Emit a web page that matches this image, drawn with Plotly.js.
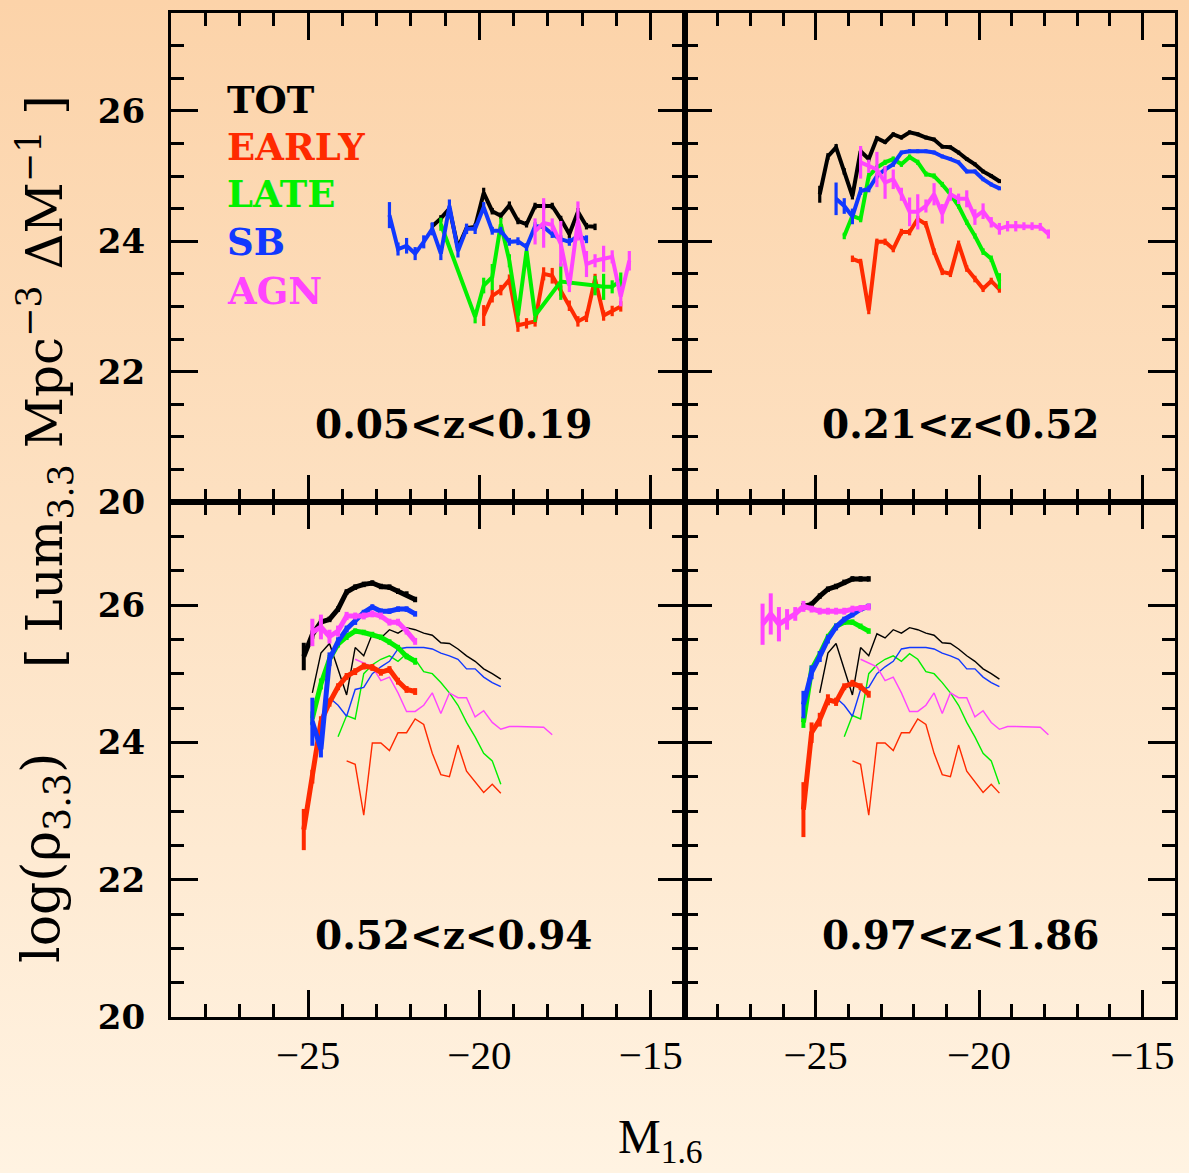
<!DOCTYPE html>
<html><head><meta charset="utf-8">
<script src="https://cdn.plot.ly/plotly-3.0.1.min.js"></script>
<style>
html,body{margin:0;padding:0;}
body{width:1189px;height:1173px;overflow:hidden;background:linear-gradient(to bottom,#FCD3A9 0%,#FDE1C2 45%,#FFF3E2 100%);}
#plot{width:1189px;height:1173px;}
</style></head><body><div id="plot"></div>
<script>
// ---------- tick labels / categories ----------
const panelLabels = ['0.05<z<0.19','0.21<z<0.52','0.52<z<0.94','0.97<z<1.86'];
const seriesNames = ['TOT','EARLY','LATE','SB','AGN'];
const seriesColors = ['#000000','#FF2A00','#00F000','#1038FF','#FF44FF'];

// ---------- panel 1 : 0.05<z<0.19 ----------
const z1_tot_x = [-21.375,-21.125,-20.875,-20.625,-20.375,-20.125,-19.875,-19.625,-19.375,-19.125,-18.875,-18.625,-18.375,-18.125,-17.875,-17.625,-17.375,-17.125,-16.875,-16.625];
const z1_tot_y = [24.23,24.35,24.50,23.90,24.20,24.22,24.74,24.46,24.39,24.55,24.31,24.26,24.54,24.54,24.54,24.34,24.11,24.45,24.23,24.22];
const z1_tot_e = [0.05,0.05,0.05,0.05,0.05,0.05,0.08,0.05,0.05,0.06,0.05,0.05,0.05,0.05,0.05,0.05,0.06,0.06,0.05,0.05];
const z1_early_x = [-19.875,-19.625,-19.375,-19.125,-18.875,-18.625,-18.375,-18.125,-17.875,-17.625,-17.375,-17.125,-16.875,-16.625,-16.375,-16.125,-15.875];
const z1_early_y = [22.86,23.16,23.25,23.41,22.71,22.74,22.77,23.50,23.47,23.24,23.01,22.77,22.84,23.42,22.86,22.93,23.00];
const z1_early_e = [0.16,0.10,0.08,0.08,0.10,0.08,0.08,0.10,0.12,0.08,0.08,0.08,0.08,0.08,0.08,0.08,0.08];
const z1_late_x = [-21.125,-20.125,-19.875,-19.625,-19.375,-19.125,-18.875,-18.625,-18.375,-17.625,-16.625,-16.375,-16.125,-15.875];
const z1_late_y = [24.26,22.84,23.32,23.45,24.26,23.70,22.86,23.85,22.86,23.38,23.32,23.30,23.30,23.40];
const z1_late_e = [0.10,0.10,0.12,0.20,0.10,0.10,0.10,0.10,0.10,0.28,0.15,0.20,0.10,0.12];
const z1_sb_x = [-22.625,-22.375,-22.125,-21.875,-21.625,-21.375,-21.125,-20.875,-20.625,-20.375,-20.125,-19.875,-19.625,-19.375,-19.125,-18.875,-18.625,-18.375,-18.125,-17.875,-17.625,-17.375,-17.125,-16.875];
const z1_sb_y = [24.40,23.88,23.93,23.81,23.99,24.19,23.81,24.54,23.85,24.19,24.19,24.52,24.16,24.16,23.99,24.00,23.91,24.23,24.22,24.11,24.03,23.99,24.08,24.03];
const z1_sb_e = [0.20,0.10,0.12,0.10,0.10,0.10,0.10,0.10,0.10,0.08,0.08,0.08,0.06,0.06,0.06,0.06,0.06,0.06,0.06,0.06,0.06,0.06,0.06,0.06];
const z1_agn_x = [-18.375,-18.125,-17.875,-17.625,-17.375,-17.125,-16.875,-16.625,-16.375,-16.125,-15.875,-15.625];
const z1_agn_y = [24.15,24.28,24.25,23.96,23.32,24.31,23.65,23.70,23.73,23.76,23.15,23.70];
const z1_agn_e = [0.20,0.38,0.10,0.35,0.10,0.30,0.20,0.10,0.20,0.10,0.15,0.15];

// ---------- panel 2 : 0.21<z<0.52 ----------
const z2_tot_x = [-24.875,-24.625,-24.375,-24.125,-23.875,-23.625,-23.375,-23.125,-22.875,-22.625,-22.375,-22.125,-21.875,-21.625,-21.375,-21.125,-20.875,-20.625,-20.375,-20.125,-19.875,-19.625,-19.375];
const z2_tot_y = [24.72,25.30,25.44,25.07,24.69,25.38,25.26,25.58,25.52,25.64,25.59,25.67,25.64,25.59,25.56,25.45,25.44,25.36,25.26,25.18,25.07,25.00,24.92];
const z2_tot_e = [0.13,0.05,0.05,0.05,0.05,0.04,0.04,0.03,0.03,0.03,0.03,0.03,0.03,0.03,0.03,0.03,0.03,0.03,0.03,0.03,0.03,0.03,0.03];
const z2_early_x = [-23.875,-23.625,-23.375,-23.125,-22.875,-22.625,-22.375,-22.125,-21.875,-21.625,-21.375,-21.125,-20.875,-20.625,-20.375,-20.125,-19.875,-19.625,-19.375];
const z2_early_y = [23.73,23.68,22.94,23.99,23.99,23.88,24.14,24.14,24.34,24.26,23.84,23.53,23.50,23.96,23.58,23.42,23.27,23.39,23.26];
const z2_early_e = [0.05,0.05,0.06,0.05,0.05,0.05,0.05,0.05,0.05,0.05,0.05,0.05,0.05,0.05,0.05,0.05,0.05,0.05,0.05];
const z2_late_x = [-24.125,-23.875,-23.625,-23.375,-23.125,-22.875,-22.625,-22.375,-22.125,-21.875,-21.625,-21.375,-21.125,-20.875,-20.625,-20.375,-20.125,-19.875,-19.625,-19.375];
const z2_late_y = [24.08,24.39,24.34,25.00,25.13,25.21,25.26,25.18,25.29,25.21,25.03,25.00,24.87,24.72,24.54,24.29,24.08,23.84,23.73,23.39];
const z2_late_e = [0.05,0.05,0.05,0.05,0.04,0.04,0.04,0.04,0.04,0.04,0.04,0.04,0.04,0.04,0.04,0.04,0.04,0.05,0.05,0.12];
const z2_sb_x = [-24.375,-24.125,-23.875,-23.625,-23.375,-23.125,-22.875,-22.625,-22.375,-22.125,-21.875,-21.625,-21.375,-21.125,-20.875,-20.625,-20.375,-20.125,-19.875,-19.625,-19.375];
const z2_sb_y = [24.65,24.54,24.38,24.77,24.80,25.00,25.10,25.18,25.36,25.38,25.38,25.38,25.36,25.30,25.26,25.21,25.07,25.07,24.95,24.87,24.81];
const z2_sb_e = [0.25,0.12,0.12,0.06,0.05,0.04,0.04,0.04,0.03,0.03,0.03,0.03,0.03,0.03,0.03,0.03,0.03,0.03,0.03,0.03,0.03];
const z2_agn_x = [-23.625,-23.375,-23.125,-22.875,-22.625,-22.375,-22.125,-21.875,-21.625,-21.375,-21.125,-20.875,-20.625,-20.375,-20.125,-19.875,-19.625,-19.375,-19.125,-18.875,-18.625,-18.375,-18.125,-17.875];
const z2_agn_y = [25.21,25.15,25.10,24.90,24.95,24.72,24.45,24.45,24.54,24.72,24.42,24.72,24.65,24.65,24.37,24.46,24.29,24.19,24.23,24.23,24.23,24.23,24.22,24.11];
const z2_agn_e = [0.25,0.10,0.27,0.25,0.15,0.10,0.22,0.27,0.10,0.17,0.15,0.10,0.08,0.13,0.12,0.12,0.08,0.09,0.08,0.08,0.06,0.06,0.06,0.07];

// ---------- panel 3 : 0.52<z<0.94 ----------
const z3_tot_x = [-25.125,-24.875,-24.625,-24.375,-24.125,-23.875,-23.625,-23.375,-23.125,-22.875,-22.625,-22.375,-22.125,-21.875];
const z3_tot_y = [25.25,25.57,25.75,25.79,25.94,26.19,26.26,26.30,26.32,26.27,26.26,26.20,26.16,26.08];
const z3_tot_e = [0.20,0.06,0.05,0.04,0.04,0.04,0.04,0.04,0.04,0.04,0.04,0.04,0.04,0.04];
const z3_early_x = [-25.125,-24.875,-24.625,-24.375,-24.125,-23.875,-23.625,-23.375,-23.125,-22.875,-22.625,-22.375,-22.125,-21.875];
const z3_early_y = [22.73,23.50,24.30,24.58,24.81,24.96,25.03,25.11,25.09,25.02,25.06,24.89,24.77,24.74];
const z3_early_e = [0.30,0.10,0.08,0.06,0.05,0.05,0.05,0.05,0.05,0.05,0.05,0.05,0.05,0.05];
const z3_late_x = [-24.875,-24.625,-24.375,-24.125,-23.875,-23.625,-23.375,-23.125,-22.875,-22.625,-22.375,-22.125,-21.875];
const z3_late_y = [24.35,24.85,25.21,25.43,25.54,25.62,25.60,25.57,25.53,25.46,25.38,25.25,25.18];
const z3_late_e = [0.10,0.08,0.06,0.05,0.05,0.04,0.04,0.04,0.04,0.04,0.04,0.04,0.05];
const z3_sb_x = [-24.875,-24.625,-24.375,-24.125,-23.875,-23.625,-23.375,-23.125,-22.875,-22.625,-22.375,-22.125,-21.875];
const z3_sb_y = [24.30,23.90,25.21,25.47,25.65,25.76,25.89,25.97,25.91,25.91,25.94,25.94,25.87];
const z3_sb_e = [0.35,0.12,0.10,0.06,0.05,0.05,0.04,0.04,0.04,0.04,0.04,0.04,0.04];
const z3_agn_x = [-24.875,-24.625,-24.375,-24.125,-23.875,-23.625,-23.375,-23.125,-22.875,-22.625,-22.375,-22.125,-21.875];
const z3_agn_y = [25.60,25.68,25.54,25.62,25.84,25.84,25.84,25.87,25.84,25.75,25.75,25.62,25.47];
const z3_agn_e = [0.20,0.18,0.10,0.08,0.06,0.05,0.05,0.05,0.05,0.05,0.05,0.05,0.05];

// ---------- panel 4 : 0.97<z<1.86 ----------
const z4_tot_x = [-25.375,-25.125,-24.875,-24.625,-24.375,-24.125,-23.875,-23.625,-23.375];
const z4_tot_y = [25.98,26.01,26.13,26.23,26.27,26.33,26.38,26.38,26.38];
const z4_tot_e = [0.05,0.04,0.04,0.04,0.04,0.04,0.04,0.04,0.04];
const z4_early_x = [-25.375,-25.125,-24.875,-24.625,-24.375,-24.125,-23.875,-23.625,-23.375];
const z4_early_y = [23.02,24.14,24.33,24.62,24.59,24.81,24.86,24.81,24.70];
const z4_early_e = [0.40,0.15,0.10,0.08,0.06,0.05,0.05,0.05,0.05];
const z4_late_x = [-25.375,-25.125,-24.875,-24.625,-24.375,-24.125,-23.875,-23.625,-23.375];
const z4_late_y = [24.29,25.06,25.28,25.53,25.69,25.75,25.75,25.69,25.62];
const z4_late_e = [0.08,0.06,0.05,0.05,0.04,0.04,0.04,0.04,0.04];
const z4_sb_x = [-25.375,-25.125,-24.875,-24.625,-24.375,-24.125,-23.875,-23.625,-23.375];
const z4_sb_y = [24.55,25.02,25.25,25.50,25.68,25.79,25.86,25.94,25.98];
const z4_sb_e = [0.20,0.10,0.08,0.06,0.05,0.04,0.04,0.04,0.04];
const z4_agn_x = [-26.625,-26.375,-26.125,-25.875,-25.625,-25.375,-25.125,-24.875,-24.625,-24.375,-24.125,-23.875,-23.625,-23.375];
const z4_agn_y = [25.72,25.87,25.72,25.79,25.87,25.98,25.94,25.91,25.91,25.91,25.91,25.94,25.95,25.97];
const z4_agn_e = [0.30,0.30,0.25,0.15,0.10,0.08,0.05,0.05,0.05,0.05,0.05,0.05,0.05,0.05];

// ---------- build traces ----------
function tr(x, y, e, color, w, xa, ya){
  const t = {type:'scatter', mode:'lines', x:x, y:y, xaxis:xa, yaxis:ya,
    line:{color:color, width:w}, hoverinfo:'skip', showlegend:false};
  if (e) t.error_y = {type:'data', array:e, visible:true, color:color, thickness:Math.max(2,w*0.8), width:0};
  return t;
}
const C = seriesColors;
const traces = [];
function panel(d, xa, ya, w){
  d.forEach((s,i)=>traces.push(tr(s[0], s[1], s[2], C[i], w, xa, ya)));
}
const P1 = [[z1_tot_x,z1_tot_y,z1_tot_e],[z1_early_x,z1_early_y,z1_early_e],[z1_late_x,z1_late_y,z1_late_e],[z1_sb_x,z1_sb_y,z1_sb_e],[z1_agn_x,z1_agn_y,z1_agn_e]];
const P2 = [[z2_tot_x,z2_tot_y,z2_tot_e],[z2_early_x,z2_early_y,z2_early_e],[z2_late_x,z2_late_y,z2_late_e],[z2_sb_x,z2_sb_y,z2_sb_e],[z2_agn_x,z2_agn_y,z2_agn_e]];
const P2thin = P2.map(s => [s[0], s[1], null]);
const P3 = [[z3_tot_x,z3_tot_y,z3_tot_e],[z3_early_x,z3_early_y,z3_early_e],[z3_late_x,z3_late_y,z3_late_e],[z3_sb_x,z3_sb_y,z3_sb_e],[z3_agn_x,z3_agn_y,z3_agn_e]];
const P4 = [[z4_tot_x,z4_tot_y,z4_tot_e],[z4_early_x,z4_early_y,z4_early_e],[z4_late_x,z4_late_y,z4_late_e],[z4_sb_x,z4_sb_y,z4_sb_e],[z4_agn_x,z4_agn_y,z4_agn_e]];

panel(P1, 'x', 'y', 4);
panel(P2, 'x2', 'y2', 4);
panel(P2thin, 'x3', 'y3', 1.4);
panel(P3, 'x3', 'y3', 5);
panel(P2thin, 'x4', 'y4', 1.4);
panel(P4, 'x4', 'y4', 5);

// ---------- axes ----------
const W = 1189, H = 1173;
const xl = [171/W, 685/W], xr = [685/W, 1175/W];
const yt = [1-502/H, 1-13/H], yb = [1-1017/H, 1-502/H];
function ax(extra){
  return Object.assign({showline:true, linecolor:'black', linewidth:3, mirror:'allticks',
    ticks:'inside', tickcolor:'black', tickwidth:3, showgrid:false, zeroline:false, fixedrange:true}, extra);
}
function xax(dom, anchor, labels){
  return ax({domain:dom, anchor:anchor, range:[-29,-14], tick0:-25, dtick:5, ticklen:27,
    minor:{ticks:'inside', ticklen:13, tickwidth:3, tickcolor:'black', tick0:-25, dtick:1, showgrid:false},
    showticklabels:labels, tickfont:{family:'Liberation Serif, serif', size:41, color:'black'}, ticklabelstandoff:0});
}
function yax(dom, anchor, labels){
  return ax({domain:dom, anchor:anchor, range:[20,27.5], tick0:20, dtick:2, ticklen:27,
    minor:{ticks:'inside', ticklen:13, tickwidth:3, tickcolor:'black', tick0:20, dtick:0.5, showgrid:false},
    showticklabels:labels, tickfont:{family:'DejaVu Serif, serif', size:34, color:'black', weight:'bold'}, ticklabelstandoff:16});
}

const ann = [];
const legendY = [100,147,194,242,291];
seriesNames.forEach((n,i)=>ann.push({xref:'paper', yref:'paper', x:225/W, y:1-legendY[i]/H, xanchor:'left', yanchor:'middle',
  text:n, showarrow:false, font:{family:'DejaVu Serif, serif', size:37, color:C[i], weight:'bold'}}));
const labPos = [[453,424],[960,424],[453,935],[960,935]];
panelLabels.forEach((t,i)=>ann.push({xref:'paper', yref:'paper', x:labPos[i][0]/W, y:1-labPos[i][1]/H, xanchor:'center', yanchor:'middle',
  text:t.replace(/</g,'&lt;'), showarrow:false, font:{family:'DejaVu Serif, serif', size:39, color:'black', weight:'bold'}}));
// y-axis title (two parts, as in the reference)
ann.push({xref:'paper', yref:'paper', x:45/W, y:1-858/H, xanchor:'center', yanchor:'middle', textangle:-90, showarrow:false,
  text:'log(ρ<sub>3.3</sub>)', font:{family:'DejaVu Serif, serif', size:52, color:'black'}});
ann.push({xref:'paper', yref:'paper', x:45/W, y:1-382/H, xanchor:'center', yanchor:'middle', textangle:-90, showarrow:false,
  text:'[ Lum<sub>3.3</sub> Mpc<sup>−3</sup> ΔM<sup>−1</sup> ]', font:{family:'DejaVu Serif, serif', size:50, color:'black'}});
ann.push({xref:'paper', yref:'paper', x:660/W, y:1-1140/H, xanchor:'center', yanchor:'middle', showarrow:false,
  text:'M<sub>1.6</sub>', font:{family:'Liberation Serif, serif', size:48, color:'black'}});

const layout = {
  width:W, height:H, margin:{l:0,r:0,t:0,b:0},
  paper_bgcolor:'rgba(0,0,0,0)', plot_bgcolor:'rgba(0,0,0,0)',
  showlegend:false,
  xaxis: xax(xl,'y',false), yaxis: yax(yt,'x',true),
  xaxis2: xax(xr,'y2',false), yaxis2: yax(yt,'x2',false),
  xaxis3: xax(xl,'y3',true), yaxis3: yax(yb,'x3',true),
  xaxis4: xax(xr,'y4',true), yaxis4: yax(yb,'x4',false),
  annotations: ann
};
Plotly.newPlot('plot', traces, layout, {staticPlot:true, displayModeBar:false});
</script></body></html>
